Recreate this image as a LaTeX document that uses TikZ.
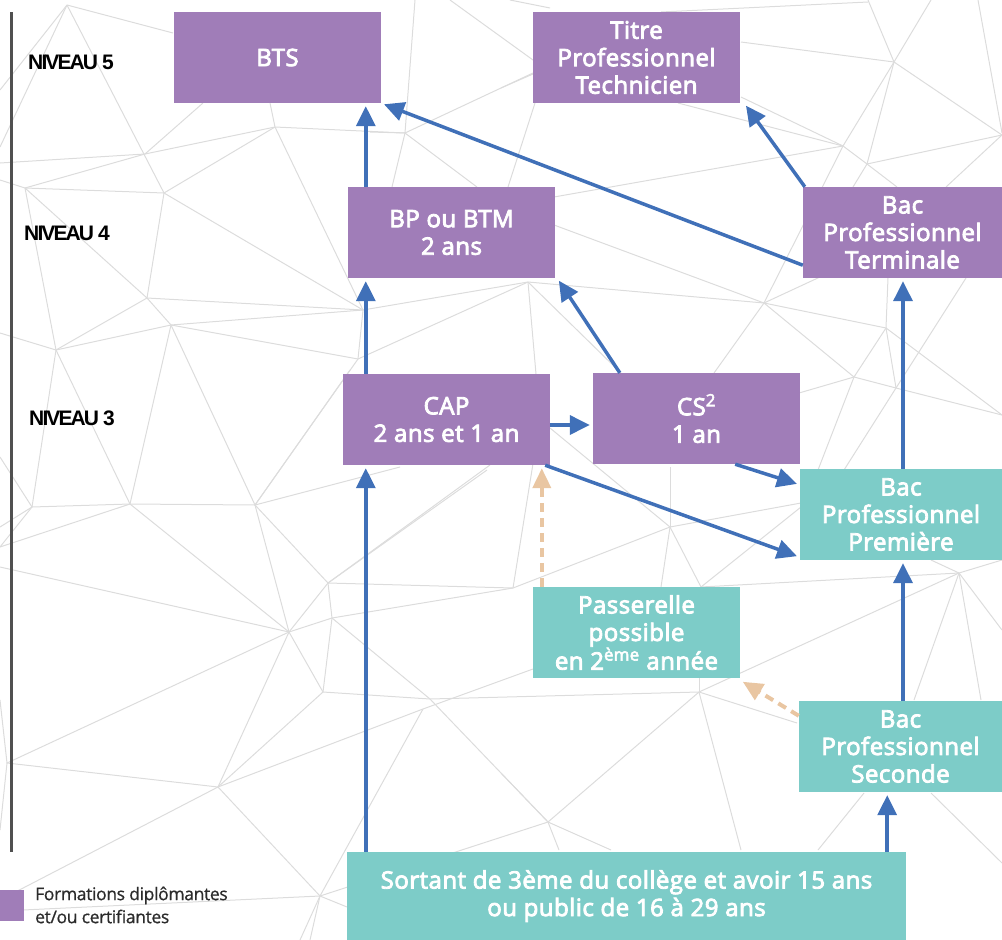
\documentclass[tikz,border=0pt]{standalone}
\usepackage{fontspec}
\setmainfont{Open Sans}
\newfontfamily\boxfont{Open Sans}[FakeBold=3.5,LetterSpace=2]
\newfontfamily\lvlfont{Liberation Sans Bold}[LetterSpace=-9]
\newfontfamily\legfont{Open Sans}[LetterSpace=-2,FakeBold=0.8]
\usetikzlibrary{arrows.meta,calc}
\definecolor{purp}{HTML}{A07DB8}
\definecolor{tealc}{HTML}{7DCCC8}
\definecolor{arrblue}{HTML}{4070B8}
\definecolor{peach}{HTML}{E9C6A2}
\definecolor{meshgray}{HTML}{DCDCDC}
\definecolor{axisgray}{HTML}{505050}
\definecolor{legtext}{HTML}{2B2B2B}
\newcommand{\boxtext}{\boxfont\fontsize{24}{27.5}\selectfont}
\tikzset{
  pbox/.style={fill=purp, draw=none, minimum width=207pt, minimum height=91pt, inner sep=0pt, align=center, text=white, font=\boxtext},
  tbox/.style={pbox, fill=tealc},
  arr/.style={draw=arrblue, line width=3.5pt, -{Triangle[length=20pt,width=19pt]}, shorten >=3pt},
  darr/.style={draw=peach, line width=4pt, dash pattern=on 9pt off 6pt, -{Triangle[length=20pt,width=18pt]}, shorten >=3pt},
  mesh/.style={draw=meshgray, line width=1pt},
  lvl/.style={font=\lvlfont\fontsize{21}{22}\selectfont, text=black, inner sep=0pt},
  axisline/.style={draw=axisgray, line width=3pt}
}
\begin{document}
\begin{tikzpicture}[x=1pt,y=-1pt]
\useasboundingbox (0,0) rectangle (1002,940);
\begin{scope}
\clip (0,0) rectangle (1002,940);
\foreach \a/\b/\c/\d in {
67/5/0/90, 67/5/0/147, 67/5/173/33, 67/5/164/193, 145/154/275/127, 145/154/0/163, 145/154/203/103,
25/188/145/154, 25/188/0/180, 25/188/164/193, 164/193/275/127, 164/193/147/298, 164/193/363/310,
275/127/405/133, 275/127/363/310, 275/127/270/103, 405/133/415/0, 405/133/533/73, 405/133/370/132,
405/133/392/187, 405/133/477/187, 450/0/533/60, 510/0/550/8, 535/103/508/187, 25/188/147/298,
25/188/56/350, 147/298/363/310, 147/298/171/325, 147/298/56/350, 171/325/56/350, 171/325/358/359,
171/325/363/310, 171/325/130/504, 171/325/255/505, 56/350/0/333, 56/350/32/507, 56/350/130/504,
358/359/363/310, 358/359/255/505, 363/310/528/282, 358/359/528/282,
661/12/868/2, 741/42/894/62, 868/0/894/62, 931/0/894/62, 894/62/843/146, 843/146/764/303,
894/62/1002/135, 894/62/867/164, 1002/135/867/164, 1002/135/946/187, 978/0/1002/133, 741/97/843/146,
678/103/843/146, 843/146/867/164, 843/146/554/197, 867/164/853/187, 867/164/897/187, 501/88/533/74,
554/225/764/303, 528/282/764/303, 528/282/540/420, 540/420/513/588, 528/282/621/373, 764/303/886/328,
764/303/854/377, 764/303/714/373, 764/303/820/277, 886/328/888/278, 886/328/896/388, 886/328/1002/415,
886/328/854/377, 854/377/799/393, 854/377/818/470, 854/377/896/388, 896/388/966/278, 896/388/844/470,
896/388/1002/415,
255/505/400/467, 490/465/328/583, 550/428/670/527, 670/527/670/467, 801/503/670/527, 670/527/513/588,
670/527/661/587, 670/527/701/587, 701/587/801/507, 701/587/959/573, 430/699/699/692, 699/692/959/573,
699/692/797/723, 699/692/741/850, 699/692/548/822, 699/692/699/678, 959/573/914/700, 959/573/981/700,
959/573/1002/630, 959/573/931/560, 959/573/1002/560, 548/822/559/850, 548/822/611/850, 548/822/501/773,
864/793/818/850, 931/793/1002/863, 328/583/513/588, 332/618/513/588, 328/583/487/470, 423/709/533/669,
430/699/548/822, 548/822/320/896,
32/507/130/504, 130/504/255/505, 255/505/328/583, 255/505/289/632, 130/504/289/632, 32/507/0/547,
0/567/289/632, 328/583/332/618, 328/583/289/632, 332/618/289/632, 332/618/323/692, 332/618/430/699,
289/632/323/692, 289/632/7/763, 289/632/218/787, 323/692/218/787, 323/692/430/699, 423/709/320/896,
423/709/218/787, 7/763/218/787, 218/787/320/896, 218/787/0/900, 23/910/320/896, 320/896/347/907,
320/896/300/940, 320/896/310/940, 7/763/0/700, 7/763/0/830, 0/457/32/507, 0/527/32/507, 0/547/130/504,
255/505/350/370}
  \draw[mesh] (\a,\b) -- (\c,\d);
\end{scope}

% level axis
\draw[axisline] (11,12) -- (11,852);
\node[lvl] (n5) at (71,62) {NIVEAU 5};
\node[lvl] (n4) at (67,233) {NIVEAU 4};
\node[lvl] (n3) at (72,418) {NIVEAU 3};

% boxes
\node[pbox] (bts) at (277.5,57.5) {BTS};
\node[pbox] (titre) at (636.5,57.5) {Titre\\Professionnel\\Technicien};
\node[pbox] (bp) at (451.5,232.5) {BP ou BTM\\2 ans};
\node[pbox, minimum width=199pt] (term) at (902.5,232.5) {Bac\\Professionnel\\Terminale};
\node[pbox] (cap) at (446.5,419.5) {CAP\\2 ans et 1 an};
\node[pbox] (cs) at (696.5,418.5) {CS\textsuperscript{2}\\1 an};
\node[tbox, minimum width=202pt] (prem) at (901,514.5) {Bac\\Professionnel\\Première};
\node[tbox] (pass) at (636.5,632.5) {Passerelle\\possible\\en 2\textsuperscript{ème} année};
\node[tbox, minimum width=203pt] (sec) at (900.5,746.5) {Bac\\Professionnel\\Seconde};
\node[tbox, minimum width=559pt, minimum height=88pt] (sort) at (626.5,896) {Sortant de 3ème du collège et avoir 15 ans\\ou public de 16 à 29 ans};

% legend
\node[fill=purp, minimum width=24pt, minimum height=31pt, inner sep=0pt] (legsq) at (12,905.5) {};
\node[anchor=west, align=left, inner sep=0pt, text=legtext, font=\legfont\fontsize{17.5}{23}\selectfont] (legtx) at (35,905) {Formations diplômantes\\et/ou certifiantes};

% connectors
\draw[arr] ([xshift=23pt]cap.north west) -- ([xshift=18pt]bp.south west);
\draw[arr] ([xshift=18pt]bp.north west) -- ([xshift=192pt]bts.south west);
\draw[arr] ([yshift=13pt]term.south west) -- (bts.south east);
\draw[arr] ([xshift=2pt]term.north west) -- ([xshift=4pt]titre.south east);
\draw[arr] ([xshift=27pt]cs.north west) -- ([xshift=2pt]bp.south east);
\draw[arr] ([yshift=-5.5pt]cap.east) -- ([yshift=-6.5pt]cs.west);
\draw[arr] ([xshift=-5pt]cap.south east) -- ([yshift=3pt]prem.south west);
\draw[arr] ([xshift=-65pt]cs.south east) -- ([yshift=-16pt]prem.north west);
\draw[arr] ([xshift=2pt]prem.north) -- ([xshift=2pt]prem.north |- term.south);
\draw[arr] ([xshift=2.5pt]sec.north) -- ([xshift=2.5pt]sec.north |- prem.south);
\draw[arr] ([xshift=19pt]sort.north west) -- ([xshift=19pt]sort.north west |- cap.south);
\draw[arr] ([xshift=-19pt]sort.north east) -- ([xshift=-19pt]sort.north east |- sec.south);
\draw[darr] ([xshift=9pt]pass.north west) -- ([xshift=9pt]pass.north west |- cap.south);
\draw[darr] ([yshift=-15pt]sec.north west) -- ([yshift=-2pt]pass.south east);
\end{tikzpicture}
\end{document}
